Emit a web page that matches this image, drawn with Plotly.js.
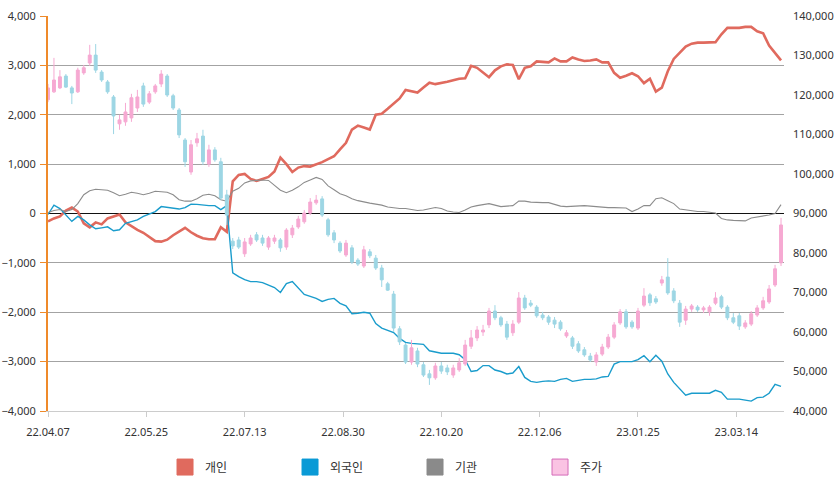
<!DOCTYPE html>
<html>
<head>
<meta charset="utf-8">
<script src="https://cdn.plot.ly/plotly-3.0.1.min.js"></script>
<style>
  html, body { margin: 0; padding: 0; background: #fff; }
  #chart { width: 840px; height: 485px; }
</style>
</head>
<body>
<div id="chart"></div>
<script>
// one sample every 2 trading days, starting 22.04.07
const tickVals = [0, 33, 66, 99, 132, 165, 198, 231];
const tickText = ['22.04.07', '22.05.25', '22.07.13', '22.08.30', '22.10.20', '22.12.06', '23.01.25', '23.03.14'];
const sampleStep = 2;

// 개인 (left axis)
const personal = [
  -160, -100, -60, 60, 120, 40, -200, -280, -180, -220,
  -100, -60, -20, -180, -260, -330, -390, -470, -560, -570,
  -530, -440, -360, -290, -380, -450, -500, -520, -520, -280,
  -370, 650, 780, 800, 700, 660, 700, 740, 850, 1130,
  1000, 840, 930, 960, 950, 990, 1040, 1100, 1160, 1300,
  1430, 1700, 1780, 1740, 1700, 2000, 2020, 2120, 2220, 2330,
  2500, 2480, 2450, 2550, 2650, 2620, 2640, 2670, 2700, 2730,
  2740, 2990, 2950, 2850, 2760, 2900, 2980, 3020, 3010, 2720,
  2950, 2980, 3080, 3070, 3060, 3140, 3080, 3080, 3160, 3120,
  3090, 3100, 3120, 3060, 3060, 2850, 2750, 2790, 2840, 2780,
  2640, 2730, 2470, 2550, 2880, 3130, 3250, 3380, 3440, 3460,
  3460, 3460, 3470, 3630, 3760, 3760, 3760, 3780, 3780, 3690,
  3650, 3400, 3250, 3100
];

// 외국인 (left axis)
const foreign = [
  -20, 170, 100, -40, -160, -60, -130, -230, -310, -290,
  -270, -350, -330, -200, -165, -130, -60, -10, 40, 140,
  125, 100, 90, 120, 190, 185, 170, 160, 160, 80,
  160, -1200, -1280, -1340, -1380, -1380, -1400, -1450, -1500, -1600,
  -1420, -1380, -1500, -1640, -1680, -1720, -1780, -1740, -1720, -1820,
  -1870, -2030, -2020, -2000, -2020, -2230, -2320, -2370, -2410, -2530,
  -2610, -2630, -2640, -2650, -2780, -2810, -2830, -2830, -2830, -2860,
  -2960, -3200, -3180, -3080, -3080, -3170, -3200, -3250, -3230, -3100,
  -3320, -3400, -3420, -3400, -3390, -3400, -3360, -3340, -3400, -3380,
  -3360, -3360, -3350, -3310, -3300, -3050, -3000, -3000, -3000, -2960,
  -2880, -3000, -2870, -2990, -3250, -3420, -3560, -3680, -3640, -3640,
  -3640, -3640, -3580, -3620, -3760, -3760, -3760, -3780, -3800, -3730,
  -3720, -3640, -3460, -3500
];

// 기관 (left axis)
const institution = [
  20, 60, 80, 40, 80, 200, 380, 460, 490, 480,
  470, 420, 360, 390, 430, 410, 380, 410, 450, 440,
  430, 380, 280, 250, 250, 300, 370, 390, 360, 280,
  250, 450, 510, 620, 660, 670, 680, 670, 570, 470,
  420, 470, 540, 630, 680, 730, 690, 560, 480, 400,
  360, 300, 260, 230, 210, 190, 170, 130, 110, 100,
  100, 80, 60, 70, 90, 120, 100, 50, 30, 20,
  70, 130, 160, 180, 200, 170, 140, 150, 160, 250,
  250, 230, 220, 220, 220, 190, 150, 140, 150, 160,
  160, 150, 140, 120, 120, 120, 120, 110, 40, 90,
  160, 160, 300, 320, 260, 200, 90, 70, 60, 40,
  40, 30, 10, -100, -130, -140, -150, -150, -90, -70,
  -60, -30, 0, 180
];

// 주가 (right axis)
const priceOpen = [
  118800, 120800, 121800, 124800, 121800, 120800, 125600, 128100, 130100, 125800,
  123300, 119500, 112700, 113200, 114200, 116700, 122300, 118200, 120800, 122800,
  124800, 119800, 116200, 108600, 100500, 107900, 109600, 102500, 106100, 103100,
  94700, 83000, 83300, 79800, 82300, 84600, 83800, 81500, 83000, 83300,
  81500, 84600, 86600, 87900, 90100, 92700, 93700, 88400, 85100, 82500,
  79500, 81300, 78200, 76700, 80300, 78700, 76200, 72200, 69600, 60800,
  56700, 52400, 55200, 51700, 49400, 48400, 51400, 50900, 49100, 50400,
  51900, 56400, 58500, 60000, 61800, 65300, 63600, 62000, 59800, 62500,
  68600, 67300, 66300, 64300, 63800, 63000, 62500, 59000, 58500, 57000,
  55500, 53900, 52400, 54400, 56200, 58700, 62300, 65100, 62500, 61000,
  66800, 69400, 68400, 72400, 73900, 70400, 67300, 63000, 65800, 66300,
  65600, 65100, 67300, 68900, 66300, 63600, 64100, 61300, 62000, 64300,
  66100, 67600, 71900, 77500
];
const priceHigh = [
  122800, 129400, 126300, 125300, 122300, 126900, 127600, 132700, 132900, 126300,
  123800, 120000, 115000, 118000, 120300, 121300, 123100, 121000, 122800, 126300,
  125300, 120300, 116700, 109100, 108600, 110400, 111200, 107400, 106800, 104100,
  96000, 83800, 84100, 83800, 84600, 85300, 84600, 84300, 84600, 83800,
  86300, 87100, 89400, 90900, 93900, 94700, 94400, 88900, 85800, 83000,
  83300, 82000, 78700, 81800, 81000, 79500, 77000, 72700, 70400, 61500,
  57200, 58000, 56000, 52400, 50400, 52200, 52400, 51700, 51700, 53400,
  58000, 60500, 61500, 61800, 66100, 66800, 64100, 62800, 63000, 70100,
  69400, 68100, 66800, 65100, 64300, 63800, 63000, 60500, 59000, 57700,
  56200, 54700, 54900, 57000, 59500, 62500, 65800, 65800, 63000, 66100,
  71100, 69900, 69100, 74200, 78700, 71100, 68100, 66600, 67100, 66800,
  66600, 66800, 70100, 69400, 66800, 64800, 64800, 63000, 65300, 66800,
  68900, 71900, 77000, 88900
];
const priceLow = [
  118200, 120500, 121500, 121800, 117700, 120500, 125100, 127400, 125600, 123300,
  120300, 110100, 111200, 112200, 113200, 115700, 117000, 117700, 120300, 122000,
  119500, 116200, 109100, 101800, 99800, 106900, 102300, 101800, 103100, 93400,
  87100, 81000, 81000, 79000, 81800, 82800, 81800, 80800, 82300, 80300,
  80800, 83800, 86100, 87400, 89600, 92200, 89100, 84100, 82500, 80000,
  79000, 77200, 76700, 76200, 78700, 75700, 71400, 70400, 60000, 56700,
  51900, 51700, 51100, 48600, 46600, 47900, 49400, 49100, 48400, 49900,
  51400, 55700, 57700, 59000, 61000, 63000, 61300, 58000, 59000, 62000,
  65600, 66300, 63600, 63000, 61800, 61000, 60300, 58500, 55700, 54700,
  53700, 52400, 51400, 53900, 55700, 58200, 61800, 60800, 60800, 60500,
  66300, 66600, 67100, 71700, 69400, 67300, 61300, 61800, 65100, 65100,
  64800, 64100, 66800, 65800, 63000, 62000, 60500, 60800, 61500, 63800,
  65600, 67100, 71400, 76700
];
const priceClose = [
  121800, 123800, 124600, 122000, 120500, 126300, 126900, 130100, 126300, 123800,
  120800, 114700, 113700, 115700, 119300, 119500, 117700, 120300, 122300, 125300,
  120000, 116700, 109900, 103100, 107400, 108900, 103100, 106100, 103600, 93900,
  89600, 81800, 81500, 82800, 83800, 83300, 82500, 83800, 83800, 81300,
  85800, 86300, 88600, 90100, 92900, 93400, 89600, 84600, 83300, 80500,
  82500, 77700, 77200, 80800, 79300, 76200, 73200, 70600, 61000, 57500,
  52400, 56000, 51900, 49100, 48400, 51400, 50100, 49900, 50900, 52200,
  56700, 58500, 60500, 60500, 65300, 63600, 61800, 58700, 62000, 68600,
  66100, 66800, 64100, 63600, 62500, 62000, 60800, 59800, 56400, 55200,
  54200, 52900, 54200, 56200, 58700, 61800, 65100, 61300, 61300, 65300,
  69100, 67400, 67600, 73200, 69900, 67900, 62500, 65800, 66600, 65600,
  66100, 66300, 68600, 66300, 63600, 62500, 61500, 62300, 64600, 66100,
  67900, 70900, 76000, 87100
];

const xIdx = personal.map((_, i) => i * sampleStep);

const seriesNames = ['개인', '외국인', '기관', '주가'];
const colPersonal = '#e06a5e';
const colForeign = '#1a9ccc';
const colInst = '#8c8c8c';
const colUp = '#f6a9d2';
const colDown = '#9dd6e4';

const baseFont = "'Noto Sans', 'Noto Sans CJK KR', sans-serif";

var tracePersonal = {
  x: xIdx, y: personal, type: 'scatter', mode: 'lines',
  line: { color: colPersonal, width: 2.6 }, showlegend: false, hoverinfo: 'skip',
};
var traceForeign = {
  x: xIdx, y: foreign, type: 'scatter', mode: 'lines',
  line: { color: colForeign, width: 1.4 }, showlegend: false, hoverinfo: 'skip',
};
var traceInst = {
  x: xIdx, y: institution, type: 'scatter', mode: 'lines',
  line: { color: colInst, width: 1.1 }, showlegend: false, hoverinfo: 'skip',
};
var tracePrice = {
  x: xIdx, open: priceOpen, high: priceHigh, low: priceLow, close: priceClose,
  type: 'candlestick', yaxis: 'y2', whiskerwidth: 0,
  increasing: { line: { color: colUp, width: 1 }, fillcolor: colUp },
  decreasing: { line: { color: colDown, width: 1 }, fillcolor: colDown },
  showlegend: false, hoverinfo: 'skip',
};

// square swatches for the legend
const swatchColors = [colPersonal, '#0a9ad6', '#8a8a8a', '#fac3e3'];
const swatchLines = [colPersonal, '#0a9ad6', '#8a8a8a', '#d46ab8'];
var legendTraces = seriesNames.map((name, i) => ({
  x: [null], y: [null], type: 'scatter', mode: 'markers', name: name,
  marker: { symbol: 'square', size: 16, color: swatchColors[i], line: { color: swatchLines[i], width: 1 } },
  showlegend: true, hoverinfo: 'skip',
}));

var layout = {
  width: 840, height: 485,
  margin: { l: 48, r: 56, t: 16, b: 74, pad: 0 },
  paper_bgcolor: '#fff', plot_bgcolor: '#fff',
  font: { family: baseFont, size: 11, color: '#333' },
  showlegend: true,
  xaxis: {
    range: [0, 247],
    tickvals: tickVals, ticktext: tickText,
    showgrid: false, zeroline: false,
    showline: true, linecolor: '#cccccc', linewidth: 1,
    ticks: 'outside', ticklen: 5, tickcolor: '#cccccc',
    ticklabelstandoff: 6,
    rangeslider: { visible: false },
    fixedrange: true,
  },
  yaxis: {
    range: [-4000, 4000], dtick: 1000, tickformat: ',d',
    showgrid: true, gridcolor: '#a3a3a3', gridwidth: 1,
    zeroline: true, zerolinecolor: '#111', zerolinewidth: 1,
    showline: true, linecolor: '#ef8a2a', linewidth: 2,
    ticks: 'outside', ticklen: 6, tickcolor: '#ef8a2a',
    ticklabelstandoff: 2,
    fixedrange: true,
  },
  yaxis2: {
    overlaying: 'y', side: 'right',
    range: [40000, 140000], dtick: 10000, tickformat: ',d',
    showgrid: false, zeroline: false, showline: false,
    ticks: '', ticklabelstandoff: 8,
    fixedrange: true,
  },
  legend: {
    orientation: 'h',
    xref: 'paper', x: 0.159, xanchor: 'left',
    yref: 'container', y: 0.037, yanchor: 'middle',
    entrywidth: 80, entrywidthmode: 'pixels',
    font: { family: "'Noto Sans CJK KR', sans-serif", size: 12, color: '#333' },
    bgcolor: 'rgba(0,0,0,0)', borderwidth: 0,
  },
};

Plotly.newPlot('chart', [tracePersonal, traceForeign, traceInst, tracePrice, ...legendTraces], layout, { displayModeBar: false, staticPlot: true });
</script>
</body>
</html>
